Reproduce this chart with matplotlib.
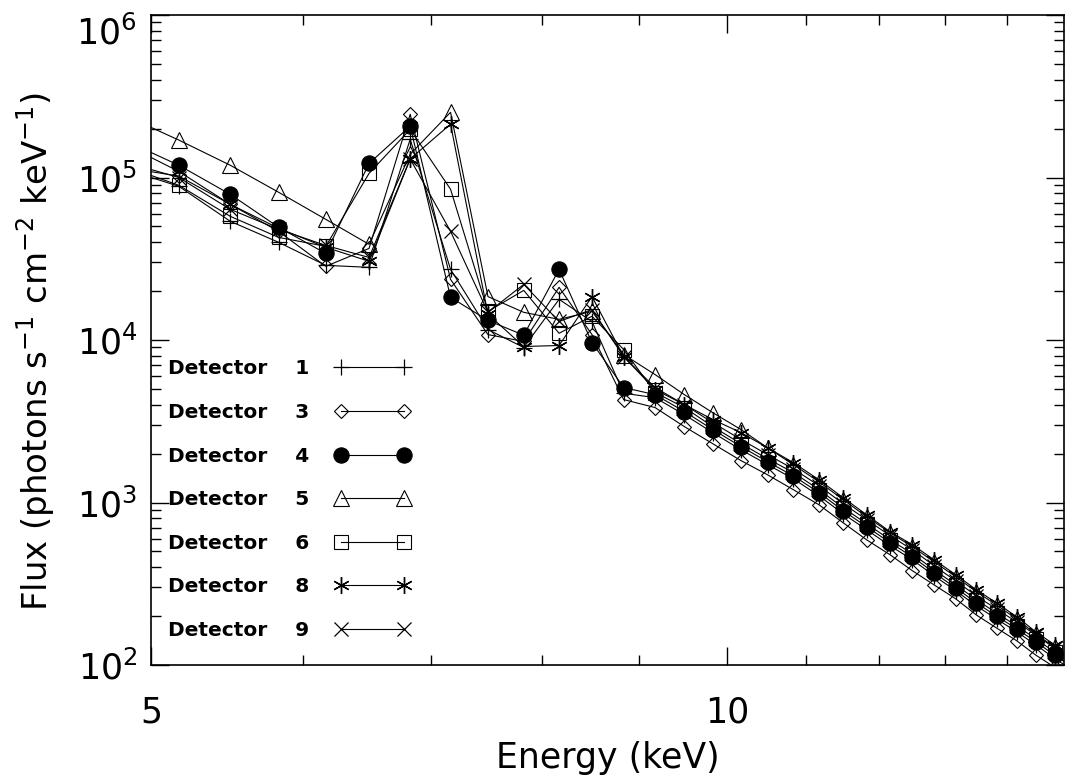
import matplotlib
matplotlib.use("Agg")
import matplotlib.pyplot as plt

# energy bin centres (keV); first and last bins sit just outside the axis range
energy = [4.83, 5.17, 5.50, 5.83, 6.17, 6.50, 6.83, 7.17, 7.50, 7.83, 8.17, 8.50,
          8.83, 9.17, 9.50, 9.83, 10.17, 10.50, 10.83, 11.17, 11.50, 11.83, 12.17,
          12.50, 12.83, 13.17, 13.50, 13.83, 14.17, 14.50, 14.83, 15.17]

# flux, photons s^-1 cm^-2 keV^-1
det1 = [1.14e5, 8.83e4, 5.38e4, 3.99e4, 2.88e4, 2.80e4, 1.72e5, 2.72e4, 1.16e4, 8.99e3,
        1.78e4, 1.30e4, 4.70e3, 4.42e3, 3.47e3, 2.69e3, 2.11e3, 1.71e3, 1.40e3, 1.10e3,
        852, 679, 541, 444, 354, 286, 231, 192, 160, 133, 110, 92]
det3 = [1.16e5, 1.02e5, 6.84e4, 4.66e4, 2.84e4, 3.66e4, 2.45e5, 2.36e4, 1.08e4, 9.79e3,
        2.11e4, 1.08e4, 4.30e3, 3.84e3, 2.93e3, 2.30e3, 1.81e3, 1.48e3, 1.20e3, 968,
        750, 589, 476, 380, 311, 255, 203, 169, 141, 115, 97, 81]
det4 = [1.72e5, 1.19e5, 7.88e4, 4.94e4, 3.41e4, 1.22e5, 2.07e5, 1.83e4, 1.32e4, 1.07e4,
        2.72e4, 9.65e3, 5.10e3, 4.61e3, 3.63e3, 2.81e3, 2.21e3, 1.78e3, 1.46e3, 1.15e3,
        890, 709, 565, 463, 369, 298, 241, 200, 167, 139, 115, 96]
det5 = [2.45e5, 1.70e5, 1.19e5, 8.11e4, 5.53e4, 3.88e4, 1.39e5, 2.52e5, 1.85e4, 1.48e4,
        1.34e4, 1.50e4, 8.14e3, 6.13e3, 4.61e3, 3.57e3, 2.81e3, 2.17e3, 1.71e3, 1.34e3,
        1.04e3, 817, 651, 534, 431, 349, 282, 234, 192, 155, 129, 107]
det6 = [1.19e5, 8.96e4, 5.77e4, 4.28e4, 3.77e4, 1.06e5, 1.98e5, 8.46e4, 1.50e4, 2.02e4,
        1.10e4, 1.40e4, 8.74e3, 4.75e3, 3.84e3, 2.93e3, 2.30e3, 1.86e3, 1.53e3, 1.20e3,
        928, 740, 589, 483, 385, 311, 252, 209, 174, 145, 120, 100]
det8 = [1.63e5, 1.09e5, 6.84e4, 4.87e4, 3.72e4, 3.05e4, 1.30e5, 2.13e5, 1.44e4, 9.12e3,
        9.25e3, 1.85e4, 7.91e3, 4.95e3, 4.00e3, 3.24e3, 2.69e3, 2.17e3, 1.76e3, 1.38e3,
        1.07e3, 840, 660, 549, 444, 359, 290, 241, 198, 160, 133, 110]
det9 = [1.26e5, 1.00e5, 6.37e4, 4.80e4, 3.82e4, 3.22e4, 1.30e5, 4.66e4, 1.48e4, 2.20e4,
        1.30e4, 1.54e4, 7.91e3, 5.10e3, 4.00e3, 3.10e3, 2.44e3, 1.97e3, 1.61e3, 1.27e3,
        982, 783, 624, 511, 408, 329, 266, 221, 184, 153, 127, 106]

detectors = ['1', '3', '4', '5', '6', '8', '9']
fluxes = [det1, det3, det4, det5, det6, det8, det9]
y_ticks = [1e2, 1e3, 1e4, 1e5, 1e6]
y_tick_labels = [r'$\mathdefault{10^{2}}$', r'$\mathdefault{10^{3}}$',
                 r'$\mathdefault{10^{4}}$', r'$\mathdefault{10^{5}}$', '']
top_tick_label = r'$\mathdefault{10^{6}}$'

# marker style per detector (IDL psym look-alikes)
styles = {
    '1': dict(marker='+', ms=11, mew=0.9),
    '3': dict(marker='D', ms=7.5, mfc='none', mew=0.8),
    '4': dict(marker='o', ms=11, mfc='black', mew=0.8),
    '5': dict(marker='^', ms=11, mfc='none', mew=0.8),
    '6': dict(marker='s', ms=10, mfc='none', mew=0.8),
    '8': dict(marker=(6, 2, 0), ms=12, mew=1.0),
    '9': dict(marker='x', ms=10, mew=0.9),
}

fig = plt.figure(figsize=(10.66, 7.83), dpi=100)
ax = fig.add_axes([151 / 1066, 1 - 665 / 783, 913 / 1066, 650 / 783])

for det, flux in zip(detectors, fluxes):
    ax.plot(energy, flux, color='black', lw=0.8, mec='black',
            label='Detector    ' + det, **styles[det])

ax.set_xscale('log')
ax.set_yscale('log')
ax.set_xlim(5, 15)
ax.set_ylim(1e2, 1e6)

ax.set_xticks([5, 10])
ax.set_xticklabels(['5', '10'])
ax.set_xticks([6, 7, 8, 9, 11, 12, 13, 14], minor=True)
ax.set_xticklabels([], minor=True)
ax.set_yticks(y_ticks)
ax.set_yticklabels(y_tick_labels)

for side in ax.spines.values():
    side.set_linewidth(1.2)

ax.tick_params(which='both', direction='in', top=True, right=True, width=1.0)
ax.tick_params(which='major', length=13)
ax.tick_params(which='minor', length=7)
ax.tick_params(axis='x', which='major', labelsize=25, pad=22)
ax.tick_params(axis='y', which='major', labelsize=25, pad=10)

# the top label hangs below the frame, as in the original
ax.text(-0.0155, y_ticks[-1], top_tick_label, transform=ax.get_yaxis_transform(),
        ha='right', va='top', fontsize=25)

ax.set_xlabel('Energy (keV)', fontsize=25, labelpad=8)
ax.set_ylabel(r'Flux (photons s$^{-1}$ cm$^{-2}$ keV$^{-1}$)', fontsize=24.5)
ax.yaxis.set_label_coords(-0.103, 0.482)

ax.legend(loc='upper left', bbox_to_anchor=(0.0186, 0.470), frameon=False,
          markerfirst=False, numpoints=2, handlelength=3.7, handletextpad=1.3,
          borderpad=0, borderaxespad=0, labelspacing=1.22,
          prop=dict(family='DejaVu Sans', weight='bold', size=14.5))

plt.savefig('out.png', dpi=100)
